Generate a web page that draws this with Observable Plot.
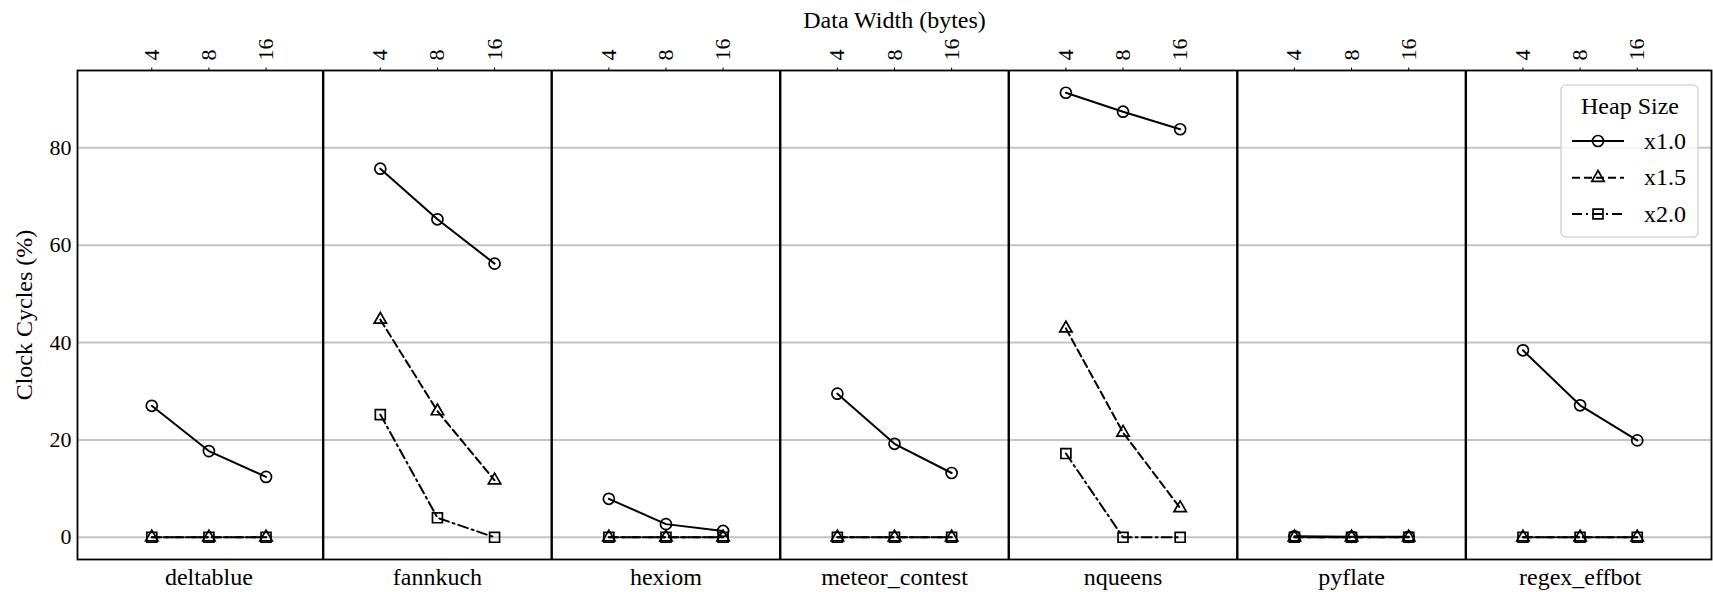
<!DOCTYPE html>
<html>
<head>
<meta charset="utf-8">
<script src="https://cdn.jsdelivr.net/npm/d3@7"></script>
<script src="https://cdn.jsdelivr.net/npm/@observablehq/plot@0.6"></script>
<style>
  body { margin: 0; background: #fff; }
  #chart { width: 1713px; height: 592px; }
</style>
</head>
<body>
<div id="chart"></div>
<script>
// ---- data ----
const benchmarks = ["deltablue", "fannkuch", "hexiom", "meteor_contest", "nqueens", "pyflate", "regex_effbot"];
const dataWidths = ["4", "8", "16"];
const heapSizes = ["x1.0", "x1.5", "x2.0"];
const heap1_0 = [[27.0, 17.7, 12.4], [75.7, 65.3, 56.2], [7.9, 2.7, 1.3], [29.5, 19.2, 13.2], [91.3, 87.4, 83.8], [0.2, 0.1, 0.1], [38.4, 27.1, 19.9]];
const heap1_5 = [[0, 0, 0], [44.7, 25.9, 11.7], [0, 0, 0], [0, 0, 0], [42.9, 21.5, 6.0], [0, 0, 0], [0, 0, 0]];
const heap2_0 = [[0, 0, 0], [25.2, 4.0, 0], [0, 0, 0], [0, 0, 0], [17.2, 0, 0], [0, 0, 0], [0, 0, 0]];
const yTicks = [0, 20, 40, 60, 80];
const xAxisTitle = "Data Width (bytes)";
const yAxisTitle = "Clock Cycles (%)";
const legendTitle = "Heap Size";

// ---- build table ----
const seriesValues = [heap1_0, heap1_5, heap2_0];
const symbolNames = ["circle", "triangle", "square"];
const symbolR = [5.5, 4.6, 5.6];
const dashes = [null, "8,4", "10,4,2,4"];
const GROUP = dataWidths.length + 1;
const rows = [];
heapSizes.forEach((h, s) =>
  benchmarks.forEach((b, g) =>
    dataWidths.forEach((w, j) =>
      rows.push({heap: h, series: s, bench: b, pos: g * GROUP + j, value: seriesValues[s][g][j]}))));
const lastPos = (benchmarks.length - 1) * GROUP + dataWidths.length - 1;
const pad = lastPos * 0.05;
const topTicks = rows.filter(d => d.series === 0).map(d => d.pos);
const dividers = benchmarks.slice(1).map((_, g) => g * GROUP + dataWidths.length);
const centers = benchmarks.map((_, g) => g * GROUP + (dataWidths.length - 1) / 2);
const yVals = rows.map(d => d.value);
const yMin = Math.min(...yVals), yMax = Math.max(...yVals);
const yPad = (yMax - yMin) * 0.05;

const font = "'Liberation Serif', 'Times New Roman', Times, serif";

const marks = [
  Plot.gridY(yTicks, {stroke: "#c4c4c4", strokeOpacity: 1, strokeWidth: 2}),
  Plot.axisY(yTicks, {anchor: "left", tickSize: 0, tickPadding: 6, label: null, fontSize: 22}),
  Plot.axisX(topTicks, {anchor: "top", tickSize: 3.5, tickPadding: 6.5, tickRotate: -90,
    textAnchor: "start", lineAnchor: "middle", label: null, fontSize: 22,
    tickFormat: p => dataWidths[p % GROUP]}),
  Plot.axisX(centers, {anchor: "bottom", tickSize: 0, tickPadding: 8, label: null, fontSize: 24,
    tickFormat: p => benchmarks[Math.round((p - (dataWidths.length - 1) / 2) / GROUP)]}),
  Plot.text([xAxisTitle], {text: d => d, frameAnchor: "top", dy: -42.5, lineAnchor: "bottom", fontSize: 24}),
  Plot.text([yAxisTitle], {text: d => d, frameAnchor: "left", dx: -53, rotate: -90, textAnchor: "middle", lineAnchor: "middle", fontSize: 24}),
  Plot.ruleX(dividers, {stroke: "#000", strokeWidth: 2.4}),
  Plot.frame({stroke: "#000", strokeWidth: 1.8})
];
heapSizes.forEach((h, s) => {
  const sub = rows.filter(d => d.series === s);
  marks.push(Plot.line(sub, {x: "pos", y: "value", z: "bench", stroke: "#000", strokeWidth: 2,
    strokeDasharray: dashes[s] || undefined}));
  marks.push(Plot.dot(sub, {x: "pos", y: "value", symbol: symbolNames[s], r: symbolR[s], fill: "none",
    stroke: "#000", strokeWidth: 1.7}));
});

const svg = Plot.plot({
  width: 1713, height: 592,
  marginLeft: 77, marginRight: 2, marginTop: 70, marginBottom: 33,
  style: {fontFamily: font, fontSize: "22px", color: "#000", background: "#fff"},
  x: {domain: [-pad, lastPos + pad], axis: null},
  y: {domain: [yMin - yPad, yMax + yPad], axis: null},
  marks
});
document.getElementById("chart").appendChild(svg);

// ---- legend ----
const d3sym = {circle: d3.symbolCircle, triangle: d3.symbolTriangle, square: d3.symbolSquare};
const lg = d3.select(svg).append("g").attr("font-family", font).attr("font-size", 24).attr("text-anchor", "start");
lg.append("rect").attr("x", 1561).attr("y", 85).attr("width", 137).attr("height", 152)
  .attr("rx", 5).attr("fill", "#fff").attr("fill-opacity", 0.8).attr("stroke", "#d6d6d6").attr("stroke-width", 1.5);
lg.append("text").attr("x", 1630).attr("y", 106).attr("dy", "0.32em").attr("text-anchor", "middle").text(legendTitle);
const rowY = [141, 177.7, 214];
heapSizes.forEach((h, s) => {
  const y = rowY[s];
  lg.append("line").attr("x1", 1572).attr("x2", 1624).attr("y1", y).attr("y2", y)
    .attr("stroke", "#000").attr("stroke-width", 2).attr("stroke-dasharray", dashes[s]);
  lg.append("path").attr("transform", `translate(1598,${y})`)
    .attr("d", d3.symbol(d3sym[symbolNames[s]], Math.PI * symbolR[s] * symbolR[s])())
    .attr("fill", "none").attr("stroke", "#000").attr("stroke-width", 1.7);
  lg.append("text").attr("x", 1644).attr("y", y).attr("dy", "0.32em").attr("text-anchor", "start").text(h);
});
</script>
</body>
</html>
